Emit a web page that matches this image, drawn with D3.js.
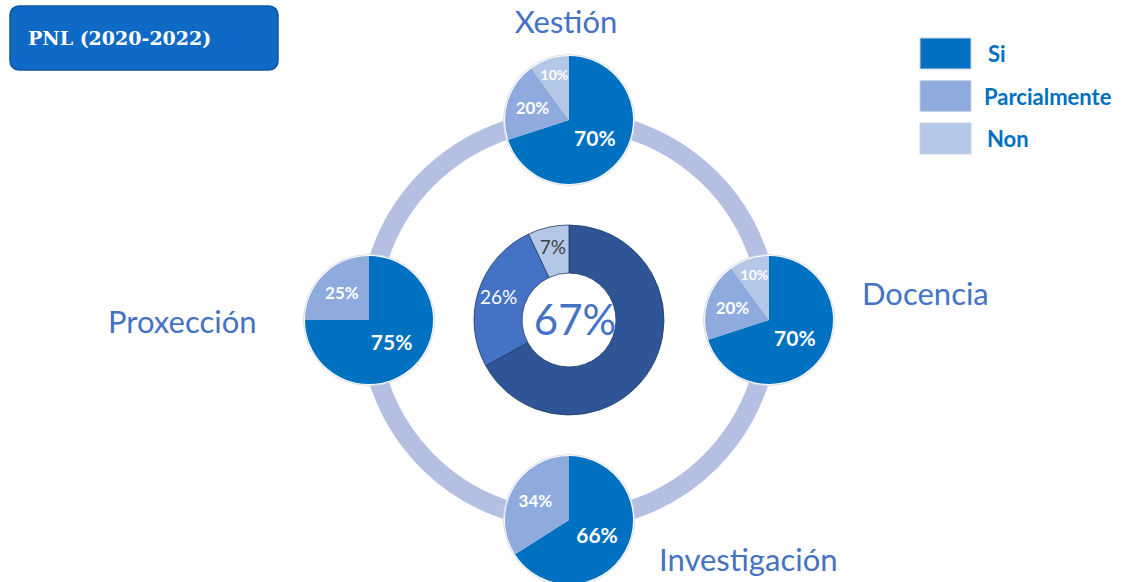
<!DOCTYPE html>
<html>
<head>
<meta charset="utf-8">
<script src="https://cdn.jsdelivr.net/npm/d3@7"></script>
<style>
  body { margin: 0; background: #fff; }
  svg { display: block; }
</style>
</head>
<body>
<svg id="chart" width="1125" height="582"></svg>
<script>
// data
const categories = ["Si", "Parcialmente", "Non"];
const areas = ["Xestión", "Docencia", "Investigación", "Proxección"];
const xestionValues = [70, 20, 10];
const docenciaValues = [70, 20, 10];
const investigacionValues = [66, 34, 0];
const proxeccionValues = [75, 25, 0];
const totalValues = [67, 26, 7];
const title = "PNL (2020-2022)";

const pieColors = ["#0070c0", "#8faadc", "#b4c7e7"];
const donutColors = ["#2f5597", "#4472c4", "#b4c7e7"];

const svg = d3.select("#chart");
const cx = 569, cy = 320;

// title box
svg.append("rect")
  .attr("x", 10).attr("y", 6).attr("width", 268).attr("height", 64)
  .attr("rx", 9)
  .attr("fill", "#0f6ac6").attr("stroke", "#0b56a0").attr("stroke-width", 1.5);
svg.append("text")
  .attr("x", 28).attr("y", 45)
  .attr("fill", "#fff")
  .attr("font-family", "'DejaVu Serif', 'Liberation Serif', serif")
  .attr("font-weight", "bold").attr("font-size", 19)
  .text(title);

// connecting ring
svg.append("circle")
  .attr("cx", cx).attr("cy", cy).attr("r", 200)
  .attr("fill", "none").attr("stroke", "#b4bfe1").attr("stroke-width", 19);

const pie = d3.pie().sort(null).value(d => d);

// small pies, placed around the ring
const pieR = 64;
const pieSets = [
  { name: areas[0], values: xestionValues, angle: 0 },
  { name: areas[1], values: docenciaValues, angle: 90 },
  { name: areas[2], values: investigacionValues, angle: 180 },
  { name: areas[3], values: proxeccionValues, angle: 270 }
];
const labelRad = [0.5, 0.6, 0.74];
const labelSize = [21, 17, 14];

const arc = d3.arc().innerRadius(0).outerRadius(pieR);

pieSets.forEach(function(p) {
  const a = p.angle * Math.PI / 180;
  const px = cx + 200 * Math.sin(a);
  const py = cy - 200 * Math.cos(a);
  const g = svg.append("g").attr("transform", "translate(" + px + "," + py + ")");

  g.append("circle").attr("r", pieR + 1.5).attr("fill", "#fff")
    .attr("stroke", "#d8dce8").attr("stroke-width", 1);

  const slices = pie(p.values);
  g.selectAll("path").data(slices).enter().append("path")
    .attr("d", arc)
    .attr("fill", (d, i) => pieColors[i]);

  g.selectAll("text").data(slices.filter(d => d.data > 0)).enter().append("text")
    .attr("transform", function(d) {
      const i = d.index;
      const c = d3.arc().innerRadius(0).outerRadius(pieR * labelRad[i] * 2).centroid(d);
      return "translate(" + c[0] + "," + c[1] + ")";
    })
    .attr("text-anchor", "middle").attr("dy", "0.35em")
    .attr("fill", "#fff")
    .attr("font-family", "Lato, 'Open Sans', sans-serif")
    .attr("font-weight", "bold")
    .attr("font-size", d => labelSize[d.index])
    .text(d => d.data + "%");
});

// area names
const nameLabels = [
  { text: areas[0], x: 566, y: 33, anchor: "middle" },
  { text: areas[1], x: 862, y: 305, anchor: "start" },
  { text: areas[2], x: 659, y: 571, anchor: "start" },
  { text: areas[3], x: 108, y: 333, anchor: "start" }
];
svg.selectAll(".area-name").data(nameLabels).enter().append("text")
  .attr("class", "area-name")
  .attr("x", d => d.x).attr("y", d => d.y)
  .attr("text-anchor", d => d.anchor)
  .attr("fill", "#4472c4")
  .attr("font-family", "Lato, 'Open Sans', sans-serif")
  .attr("font-size", 31)
  .text(d => d.text);

// centre donut
const donut = d3.arc().innerRadius(47).outerRadius(95);
const dg = svg.append("g").attr("transform", "translate(" + cx + "," + cy + ")");
const dslices = pie(totalValues);
dg.selectAll("path").data(dslices).enter().append("path")
  .attr("d", donut)
  .attr("fill", (d, i) => donutColors[i])
  .attr("stroke", "#1f3864").attr("stroke-width", 0.8);

dg.selectAll("text.lbl").data(dslices.slice(1)).enter().append("text")
  .attr("class", "lbl")
  .attr("transform", function(d) {
    const c = d3.arc().innerRadius(50).outerRadius(98).centroid(d);
    return "translate(" + c[0] + "," + c[1] + ")";
  })
  .attr("text-anchor", "middle").attr("dy", "0.35em")
  .attr("fill", d => d.index === 2 ? "#404040" : "#fff")
  .attr("font-family", "Lato, 'Open Sans', sans-serif")
  .attr("font-size", 19)
  .text(d => d.data + "%");

dg.append("text")
  .attr("x", 6).attr("y", 0).attr("dy", "0.35em")
  .attr("text-anchor", "middle")
  .attr("fill", "#4472c4")
  .attr("font-family", "Lato, 'Open Sans', sans-serif")
  .attr("font-size", 42)
  .text(totalValues[0] + "%");

// legend
const legend = svg.append("g").attr("transform", "translate(920,38)");
const lg = legend.selectAll("g").data(categories).enter().append("g")
  .attr("transform", (d, i) => "translate(0," + (i * 42.5) + ")");
lg.append("rect").attr("width", 51).attr("height", 31)
  .attr("fill", (d, i) => pieColors[i])
  .attr("stroke", "#c9d3e6").attr("stroke-width", 1);
lg.append("text")
  .attr("x", (d, i) => i === 0 ? 68 : (i === 1 ? 64 : 67)).attr("y", 24)
  .attr("fill", "#0070c0")
  .attr("font-family", "Lato, 'Open Sans', sans-serif")
  .attr("font-weight", "bold").attr("font-size", 22)
  .text(d => d);
</script>
</body>
</html>
